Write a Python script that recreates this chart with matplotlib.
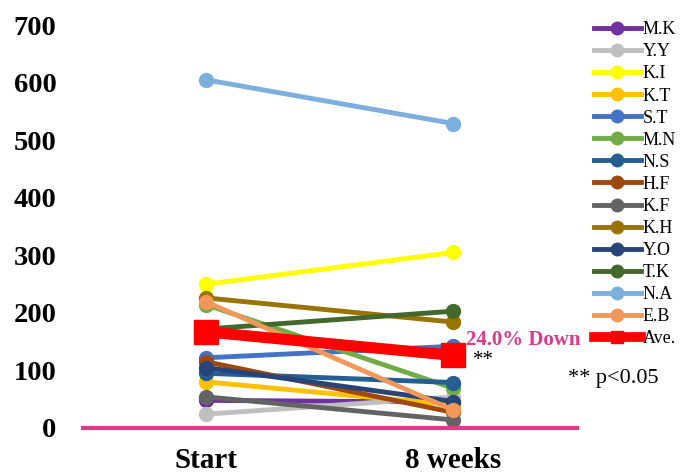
import matplotlib
matplotlib.use("Agg")
import matplotlib.pyplot as plt
from matplotlib.lines import Line2D

categories = ["Start", "8 weeks"]
names = ["M.K", "Y.Y", "K.I", "K.T", "S.T", "M.N", "N.S", "H.F", "K.F", "K.H", "Y.O", "T.K", "N.A", "E.B"]
start_vals = [48, 24, 250, 80, 122, 214, 95, 115, 54, 226, 105, 172, 605, 219]
week8_vals = [45, 54, 305, 40, 142, 69, 79, 27, 14, 184, 46, 203, 529, 31]
colors = ["#7030A0", "#BFBFBF", "#FFFF00", "#FFC000", "#4472C4", "#70AD47", "#255E91",
          "#9E480E", "#636363", "#997300", "#264478", "#43682B", "#7CAFDD", "#F1975A"]
ave_vals = [167, 126]
yticks = [0, 100, 200, 300, 400, 500, 600, 700]

plt.rcParams['font.family'] = ['Liberation Serif', 'DejaVu Serif']

fig = plt.figure(figsize=(6.85, 4.75), dpi=100)
ax = fig.add_axes([0.121, 0.099, 0.721, 0.848])

x = [0, 1]
handles = []
for n, s, w, c in zip(names, start_vals, week8_vals, colors):
    ax.plot(x, [s, w], color=c, lw=3.5, marker='o', ms=10, solid_capstyle='round', zorder=3)
    handles.append(Line2D([], [], color=c, lw=3.5, marker='o', ms=9))
ax.plot(x, ave_vals, color='#FF0000', lw=8, marker='s', ms=17, zorder=5)
handles.append(Line2D([], [], color='#FF0000', lw=7, marker='s', ms=9))

ax.axhline(0, color='#E0398A', lw=3, zorder=6, clip_on=False)

ax.set_xlim(-0.5, 1.5)
ax.set_ylim(0, 700)
ax.set_yticks(yticks)
ax.set_yticklabels([str(v) for v in yticks], fontsize=20.5, fontweight='bold')
ax.set_xticks(x)
ax.set_xticklabels(categories, fontsize=21, fontweight='bold')
ax.tick_params(length=0)
ax.tick_params(axis='y', pad=19)
ax.tick_params(axis='x', pad=14)
for sp in ax.spines.values():
    sp.set_visible(False)

ax.text(1.05, ave_vals[1] + 27, "24.0% Down", color='#E0398A', fontsize=15,
        fontweight='bold', ha='left', va='center')
ax.text(1.08, ave_vals[1] - 9, "**", color='black', fontsize=15, ha='left', va='center')
fig.text(0.829, 0.203, "** p<0.05", fontsize=16, ha='left', va='center')

leg = fig.legend(handles, names + ["Ave."], loc='upper left', bbox_to_anchor=(0.867, 0.955),
                 frameon=False, fontsize=13, handlelength=2.6, handletextpad=0.1,
                 labelspacing=0.28, borderpad=0, borderaxespad=0)

fig.savefig("out.png", dpi=100)
